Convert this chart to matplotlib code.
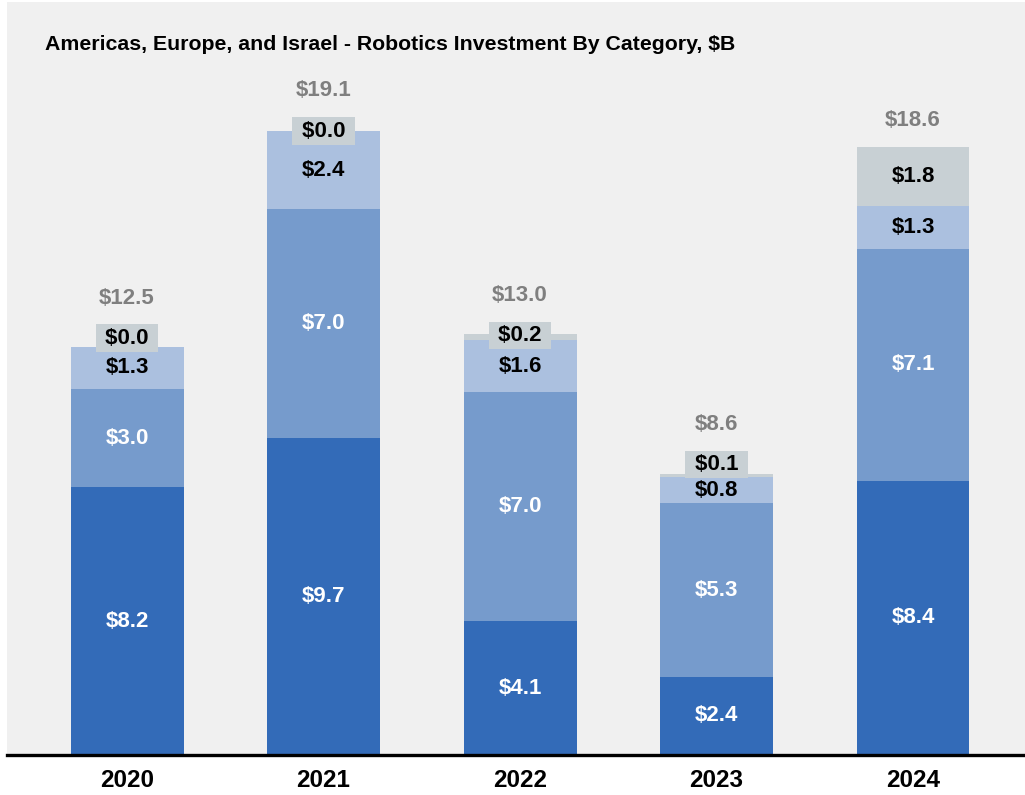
import matplotlib
matplotlib.use("Agg")
import matplotlib.pyplot as plt

plt.rcParams['font.family'] = ['Liberation Sans', 'DejaVu Sans']

years = ['2020', '2021', '2022', '2023', '2024']
series_a = [8.2, 9.7, 4.1, 2.4, 8.4]
series_b = [3.0, 7.0, 7.0, 5.3, 7.1]
series_c = [1.3, 2.4, 1.6, 0.8, 1.3]
series_d = [0.0, 0.0, 0.2, 0.1, 1.8]
totals = [12.5, 19.1, 13.0, 8.6, 18.6]

colors = ['#336bb8', '#769bcc', '#abc0df', '#c8d0d4']
text_colors = ['white', 'white', 'black', 'black']
bg = '#f0f0f0'
# upward nudge (points) for the small top labels so they clear the label below
small_nudge = [6, 0, 1, 8, 0]

fig = plt.figure(figsize=(10.25, 7.95), dpi=100)
ax = fig.add_axes([7 / 1025, 40 / 795, 1018 / 1025, 753 / 795])
ax.set_facecolor(bg)

x = list(range(len(years)))
width = 0.575
bottoms = [0.0] * len(years)
for vals, col, tcol in zip([series_a, series_b, series_c, series_d], colors, text_colors):
    ax.bar(x, vals, width, bottom=bottoms, color=col, edgecolor='none', zorder=2)
    for i, v in enumerate(vals):
        yc = bottoms[i] + v / 2
        if v < 0.5:
            ax.annotate(f' ${v:.1f} ', (x[i], yc), xytext=(0, small_nudge[i]),
                        textcoords='offset points', ha='center', va='center',
                        fontsize=16, fontweight='bold', color=tcol, zorder=4,
                        bbox=dict(boxstyle='square,pad=0.15', fc=colors[3], ec='none'))
        else:
            ax.text(x[i], yc, f'${v:.1f}', ha='center', va='center',
                    fontsize=16, fontweight='bold', color=tcol, zorder=4)
    bottoms = [b + v for b, v in zip(bottoms, vals)]

for i, t in enumerate(totals):
    if series_d[i] < 0.5:
        ref = bottoms[i] - series_d[i] / 2
        off = small_nudge[i] + 29
    else:
        ref = bottoms[i]
        off = 19
    ax.annotate(f'${t:.1f}', (x[i], ref), xytext=(0, off), textcoords='offset points',
                ha='center', va='center', fontsize=16, fontweight='bold',
                color='#7f7f7f', zorder=4)

ax.set_xlim(-0.611, 4.57)
ax.set_ylim(0, 23.05)
ax.set_yticks([])
ax.set_xticks(x)
ax.set_xticklabels(years, fontsize=17.5, fontweight='bold')
ax.tick_params(axis='x', length=0, pad=10)
for s in ['top', 'right', 'left']:
    ax.spines[s].set_visible(False)
ax.spines['bottom'].set_linewidth(2.4)
ax.spines['bottom'].set_color('black')

ax.text(38 / 1018, 0.944, 'Americas, Europe, and Israel - Robotics Investment By Category, $B',
        transform=ax.transAxes, fontsize=15.3, fontweight='bold', ha='left', va='center')

fig.savefig('out.png', dpi=100, facecolor='white')
